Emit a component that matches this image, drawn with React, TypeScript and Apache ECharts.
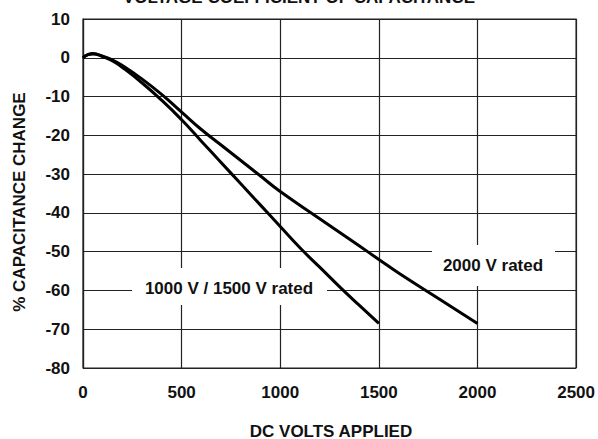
import React, { useEffect, useRef } from "react";
import * as echarts from "echarts";

const volts1500 = [0, 25, 50, 100, 150, 200, 300, 400, 500, 600, 700, 800, 900, 1000, 1100, 1200, 1300, 1400, 1500];
const change1500 = [0, 0.8, 1.1, 0.3, -0.8, -2.5, -6.5, -11, -16, -21.5, -27, -32.5, -38, -43.5, -49, -54, -59, -63.8, -68.5];

const volts2000 = [0, 25, 50, 100, 150, 200, 300, 400, 500, 600, 700, 800, 900, 1000, 1200, 1400, 1500, 1600, 1800, 2000];
const change2000 = [0, 0.8, 1.0, 0.4, -0.6, -2, -5.5, -9.5, -14, -18.5, -22.5, -26.5, -30.5, -34.5, -41.5, -48.5, -52, -55.5, -62, -68.5];

const titleText = "VOLTAGE COEFFICIENT OF CAPACITANCE";
const xName = "DC VOLTS APPLIED";
const yName = "% CAPACITANCE CHANGE";
const label1500 = "1000 V / 1500 V rated";
const label2000 = "2000 V rated";

const FONT = "'Liberation Sans', Arial, Helvetica, sans-serif";

export default function App() {
  const ref = useRef<HTMLDivElement>(null);
  useEffect(() => {
    if (!ref.current) return;
    const chart = echarts.init(ref.current, null, { renderer: "svg" });
    const pair = (xs: number[], ys: number[]) => xs.map((x, i) => [x, ys[i]]);
    chart.setOption({
      animation: false,
      backgroundColor: "#fff",
      grid: {
        left: 83,
        right: 19,
        top: 19,
        bottom: 71,
        show: true,
        borderColor: "#222",
        borderWidth: 1.2,
        backgroundColor: "transparent",
      },
      xAxis: {
        type: "value",
        min: 0,
        max: 2500,
        interval: 500,
        axisLine: { show: true, lineStyle: { color: "#222", width: 1.2 } },
        axisTick: { show: false },
        splitLine: { show: true, lineStyle: { color: "#222", width: 1.2 } },
        axisLabel: {
          color: "#111",
          fontFamily: FONT,
          fontWeight: "bold",
          fontSize: 17,
          margin: 16,
          formatter: (v: number) => String(v),
        },
      },
      yAxis: {
        type: "value",
        min: -80,
        max: 10,
        interval: 10,
        axisLine: { show: true, lineStyle: { color: "#222", width: 1.2 } },
        axisTick: { show: false },
        splitLine: { show: true, lineStyle: { color: "#222", width: 1.2 } },
        axisLabel: {
          color: "#111",
          fontFamily: FONT,
          fontWeight: "bold",
          fontSize: 17,
          margin: 13,
          formatter: (v: number) => String(v),
        },
      },
      series: [
        {
          type: "line",
          data: pair(volts1500, change1500),
          smooth: true,
          showSymbol: false,
          z: 5,
          lineStyle: { color: "#000", width: 3 },
        },
        {
          type: "line",
          data: pair(volts2000, change2000),
          smooth: true,
          showSymbol: false,
          z: 5,
          lineStyle: { color: "#000", width: 3 },
        },
      ],
      graphic: [
        {
          type: "text",
          x: 299,
          y: 6,
          z: 10,
          style: {
            text: titleText,
            fill: "#111",
            font: `bold 17px ${FONT}`,
            textAlign: "center",
            textVerticalAlign: "bottom",
          },
        },
        {
          type: "text",
          x: 331,
          y: 431,
          z: 10,
          style: {
            text: xName,
            fill: "#111",
            font: `bold 17px ${FONT}`,
            textAlign: "center",
            textVerticalAlign: "middle",
          },
        },
        {
          type: "text",
          x: 19,
          y: 202,
          rotation: Math.PI / 2,
          z: 10,
          style: {
            text: yName,
            fill: "#111",
            font: `bold 17px ${FONT}`,
            textAlign: "center",
            textVerticalAlign: "middle",
          },
        },
        {
          type: "rect",
          z: 1,
          shape: { x: 132, y: 268, width: 195, height: 37 },
          style: { fill: "#fff" },
        },
        {
          type: "text",
          x: 229,
          y: 288,
          z: 10,
          style: {
            text: label1500,
            fill: "#111",
            font: `bold 17px ${FONT}`,
            textAlign: "center",
            textVerticalAlign: "middle",
          },
        },
        {
          type: "rect",
          z: 1,
          shape: { x: 432, y: 245, width: 123, height: 41 },
          style: { fill: "#fff" },
        },
        {
          type: "text",
          x: 493,
          y: 265,
          z: 10,
          style: {
            text: label2000,
            fill: "#111",
            font: `bold 17px ${FONT}`,
            textAlign: "center",
            textVerticalAlign: "middle",
          },
        },
      ],
    });
    return () => chart.dispose();
  }, []);
  return <div ref={ref} style={{ width: 598, height: 439, position: "fixed", left: 0, top: 0 }} />;
}
